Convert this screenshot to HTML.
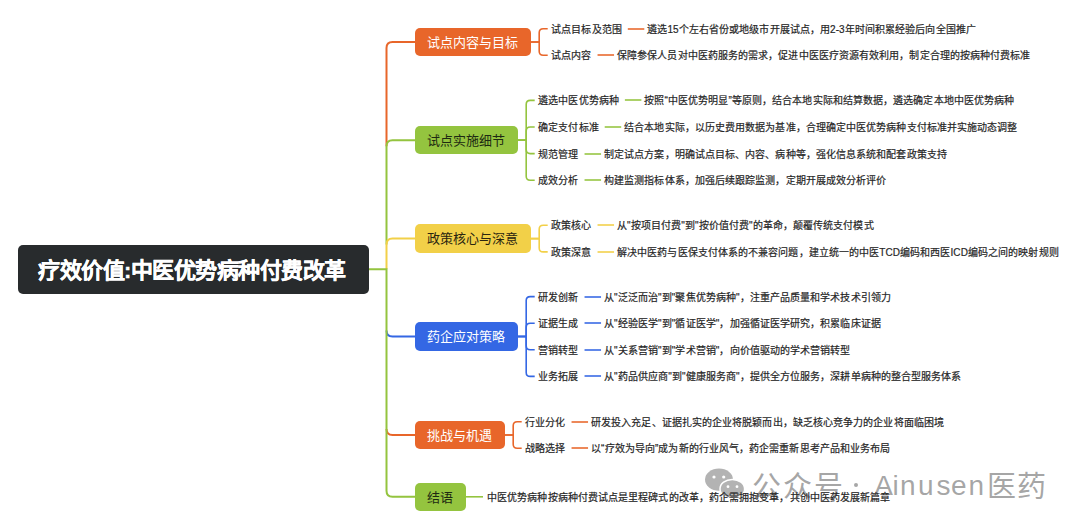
<!DOCTYPE html>
<html lang="zh-CN"><head><meta charset="utf-8"><style>
html,body{margin:0;padding:0;background:#fff;}
body{width:1080px;height:529px;position:relative;overflow:hidden;font-family:"Liberation Sans",sans-serif;}
svg{position:absolute;left:0;top:0;}
svg path{fill:none;stroke-width:2;}
svg path.th{stroke-width:1.6;}
svg path.ds{stroke-width:2;}
.ct{position:absolute;left:18px;top:245px;width:351px;height:48.5px;background:#282B2D;border-radius:5px;color:#fff;font-weight:bold;font-size:22px;letter-spacing:-0.5px;line-height:51px;-webkit-text-stroke:0.3px #fff;box-sizing:border-box;padding-left:20px;white-space:nowrap;}
.bx{position:absolute;border-radius:5px;font-size:13px;line-height:29.1px;text-align:center;white-space:nowrap;}
.lf{position:absolute;font-size:10px;letter-spacing:0.085px;line-height:14px;color:#262626;-webkit-text-stroke:0.2px #262626;white-space:nowrap;}
.lf i{display:inline-block;width:17px;height:1.6px;margin:0 3.5px 0 5.5px;vertical-align:middle;position:relative;top:0px;}
.wg{position:absolute;color:rgba(150,150,150,0.85);line-height:34px;white-space:nowrap;}
.wd{position:absolute;width:4px;height:4px;border-radius:50%;background:rgba(150,150,150,0.85);}
</style></head><body>
<svg width="1080" height="529" viewBox="0 0 1080 529">
<path d="M386.5,146.3 V48.0 Q386.5,42.0 392.5,42.0 H415" stroke="#E8662A"/>
<path d="M386.5,244.6 V146.3 Q386.5,140.3 392.5,140.3 H415" stroke="#94C43F"/>
<path d="M386.5,269.2 V244.6 Q386.5,238.6 392.5,238.6 H415" stroke="#F2D048"/>
<path d="M386.5,330.5 Q386.5,336.5 392.5,336.5 H415" stroke="#3467E4"/>
<path d="M386.5,429.0 Q386.5,435.0 392.5,435.0 H415" stroke="#E8662A"/>
<path d="M369,269.2 H386.5 V490.8 Q386.5,496.8 392.5,496.8 H415" stroke="#94C43F"/>
<path class="th" d="M530.5,42.0 H539.2 V32.7 Q539.2,28.7 543.2,28.7 H547.7" stroke="#E8662A"/>
<path class="th" d="M530.5,42.0 H539.2 V51.3 Q539.2,55.3 543.2,55.3 H547.7" stroke="#E8662A"/>
<path class="ds" d="M627.80,29 H644.30" stroke="#ed8859"/>
<path class="ds" d="M597.54,55 H614.04" stroke="#ed8859"/>
<path class="th" d="M517.5,140.3 H526.2 V104.4 Q526.2,100.4 530.2,100.4 H534.7" stroke="#94C43F"/>
<path class="th" d="M517.5,140.3 H526.2 V131.0 Q526.2,127.00000000000001 530.2,127.00000000000001 H534.7" stroke="#94C43F"/>
<path class="th" d="M517.5,140.3 H526.2 V149.60000000000002 Q526.2,153.60000000000002 530.2,153.60000000000002 H534.7" stroke="#94C43F"/>
<path class="th" d="M517.5,140.3 H526.2 V176.20000000000002 Q526.2,180.20000000000002 530.2,180.20000000000002 H534.7" stroke="#94C43F"/>
<path class="ds" d="M624.88,100 H641.38" stroke="#acd169"/>
<path class="ds" d="M604.71,127 H621.21" stroke="#acd169"/>
<path class="ds" d="M584.54,154 H601.04" stroke="#acd169"/>
<path class="ds" d="M584.54,180 H601.04" stroke="#acd169"/>
<path class="th" d="M530.5,238.6 H539.2 V229.29999999999998 Q539.2,225.29999999999998 543.2,225.29999999999998 H547.7" stroke="#F2D048"/>
<path class="th" d="M530.5,238.6 H539.2 V247.9 Q539.2,251.9 543.2,251.9 H547.7" stroke="#F2D048"/>
<path class="ds" d="M597.54,225 H614.04" stroke="#f5da70"/>
<path class="ds" d="M597.54,252 H614.04" stroke="#f5da70"/>
<path class="th" d="M517.5,336.5 H526.2 V300.6 Q526.2,296.6 530.2,296.6 H534.7" stroke="#3467E4"/>
<path class="th" d="M517.5,336.5 H526.2 V327.2 Q526.2,323.2 530.2,323.2 H534.7" stroke="#3467E4"/>
<path class="th" d="M517.5,336.5 H526.2 V345.8 Q526.2,349.8 530.2,349.8 H534.7" stroke="#3467E4"/>
<path class="th" d="M517.5,336.5 H526.2 V372.4 Q526.2,376.4 530.2,376.4 H534.7" stroke="#3467E4"/>
<path class="ds" d="M584.54,297 H601.04" stroke="#6188ea"/>
<path class="ds" d="M584.54,323 H601.04" stroke="#6188ea"/>
<path class="ds" d="M584.54,350 H601.04" stroke="#6188ea"/>
<path class="ds" d="M584.54,376 H601.04" stroke="#6188ea"/>
<path class="th" d="M504.5,435.0 H513.2 V425.7 Q513.2,421.7 517.2,421.7 H521.7" stroke="#E8662A"/>
<path class="th" d="M504.5,435.0 H513.2 V444.3 Q513.2,448.3 517.2,448.3 H521.7" stroke="#E8662A"/>
<path class="ds" d="M571.54,422 H588.04" stroke="#ed8859"/>
<path class="ds" d="M571.54,448 H588.04" stroke="#ed8859"/>
<path class="th" d="M465.5,496.8 H483.0" stroke="#94C43F"/>
</svg>
<svg width="1080" height="529" viewBox="0 0 1080 529" >
<ellipse cx="719" cy="479.6" rx="14" ry="11.2" fill="#b3b3b3"/>
<ellipse cx="732.3" cy="489" rx="12.3" ry="9.6" fill="#b3b3b3" stroke="#fff" stroke-width="1.5"/>
<circle cx="714" cy="477" r="1.6" fill="#fff"/><circle cx="723.7" cy="477" r="1.6" fill="#fff"/>
<circle cx="728" cy="486.7" r="1.4" fill="#fff"/><circle cx="737" cy="486.7" r="1.4" fill="#fff"/>
</svg>
<span class="wg" style="left:752px;top:469.5px;font-size:29px">公</span>
<span class="wg" style="left:782.5px;top:469.5px;font-size:29px">众</span>
<span class="wg" style="left:813.5px;top:469.5px;font-size:29px">号</span>
<span class="wg" style="left:986.5px;top:469.5px;font-size:29px">医</span>
<span class="wg" style="left:1017px;top:469.5px;font-size:29px">药</span>
<span class="wg" style="left:874.2px;top:469.1px;font-size:28px">A</span>
<span class="wg" style="left:892.4px;top:469.1px;font-size:28px">i</span>
<span class="wg" style="left:900.1px;top:469.1px;font-size:28px">n</span>
<span class="wg" style="left:917.9px;top:469.1px;font-size:28px">u</span>
<span class="wg" style="left:936.4px;top:469.1px;font-size:28px">s</span>
<span class="wg" style="left:951.1px;top:469.1px;font-size:28px">e</span>
<span class="wg" style="left:968.5px;top:469.1px;font-size:28px">n</span>
<span class="wd" style="left:853.8px;top:483px"></span>
<div class="ct">疗效价值:中医优势病种付费改革</div>
<div class="bx" style="left:415px;top:27.85px;width:115.50px;height:28.3px;background:#E8662A;color:#fff">试点内容与目标</div>
<div class="bx" style="left:415px;top:126.15px;width:102.50px;height:28.3px;background:#94C43F;color:#1e2a12">试点实施细节</div>
<div class="bx" style="left:415px;top:224.45px;width:115.50px;height:28.3px;background:#F2D048;color:#2a2510">政策核心与深意</div>
<div class="bx" style="left:415px;top:322.35px;width:102.50px;height:28.3px;background:#3467E4;color:#fff">药企应对策略</div>
<div class="bx" style="left:415px;top:420.85px;width:89.50px;height:28.3px;background:#E8662A;color:#fff">挑战与机遇</div>
<div class="bx" style="left:415px;top:482.65px;width:50.50px;height:28.3px;background:#94C43F;color:#1e2a12">结语</div>
<div class="lf" style="left:551.20px;top:22.70px">试点目标及范围</div>
<div class="lf" style="left:647.30px;top:22.70px">遴选15个左右省份或地级市开展试点，用2-3年时间积累经验后向全国推广</div>
<div class="lf" style="left:551.20px;top:49.30px">试点内容</div>
<div class="lf" style="left:617.04px;top:49.30px">保障参保人员对中医药服务的需求，促进中医医疗资源有效利用，制定合理的按病种付费标准</div>
<div class="lf" style="left:538.20px;top:94.40px">遴选中医优势病种</div>
<div class="lf" style="left:644.38px;top:94.40px">按照“中医优势明显”等原则，结合本地实际和结算数据，遴选确定本地中医优势病种</div>
<div class="lf" style="left:538.20px;top:121.00px">确定支付标准</div>
<div class="lf" style="left:624.21px;top:121.00px">结合本地实际，以历史费用数据为基准，合理确定中医优势病种支付标准并实施动态调整</div>
<div class="lf" style="left:538.20px;top:147.60px">规范管理</div>
<div class="lf" style="left:604.04px;top:147.60px">制定试点方案，明确试点目标、内容、病种等，强化信息系统和配套政策支持</div>
<div class="lf" style="left:538.20px;top:174.20px">成效分析</div>
<div class="lf" style="left:604.04px;top:174.20px">构建监测指标体系，加强后续跟踪监测，定期开展成效分析评价</div>
<div class="lf" style="left:551.20px;top:219.30px">政策核心</div>
<div class="lf" style="left:617.04px;top:219.30px">从"按项目付费"到"按价值付费"的革命，颠覆传统支付模式</div>
<div class="lf" style="left:551.20px;top:245.90px">政策深意</div>
<div class="lf" style="left:617.04px;top:245.90px">解决中医药与医保支付体系的不兼容问题，建立统一的中医TCD编码和西医ICD编码之间的映射规则</div>
<div class="lf" style="left:538.20px;top:290.60px">研发创新</div>
<div class="lf" style="left:604.04px;top:290.60px">从"泛泛而治"到"聚焦优势病种"，注重产品质量和学术技术引领力</div>
<div class="lf" style="left:538.20px;top:317.20px">证据生成</div>
<div class="lf" style="left:604.04px;top:317.20px">从"经验医学"到"循证医学"，加强循证医学研究，积累临床证据</div>
<div class="lf" style="left:538.20px;top:343.80px">营销转型</div>
<div class="lf" style="left:604.04px;top:343.80px">从"关系营销"到"学术营销"，向价值驱动的学术营销转型</div>
<div class="lf" style="left:538.20px;top:370.40px">业务拓展</div>
<div class="lf" style="left:604.04px;top:370.40px">从"药品供应商"到"健康服务商"，提供全方位服务，深耕单病种的整合型服务体系</div>
<div class="lf" style="left:525.20px;top:415.70px">行业分化</div>
<div class="lf" style="left:591.04px;top:415.70px">研发投入充足、证据扎实的企业将脱颖而出，缺乏核心竞争力的企业将面临困境</div>
<div class="lf" style="left:525.20px;top:442.30px">战略选择</div>
<div class="lf" style="left:591.04px;top:442.30px">以“疗效为导向”成为新的行业风气，药企需重新思考产品和业务布局</div>
<div class="lf" style="left:487.00px;top:490.80px">中医优势病种按病种付费试点是里程碑式的改革，药企需拥抱变革，共创中医药发展新篇章</div>

</body></html>
